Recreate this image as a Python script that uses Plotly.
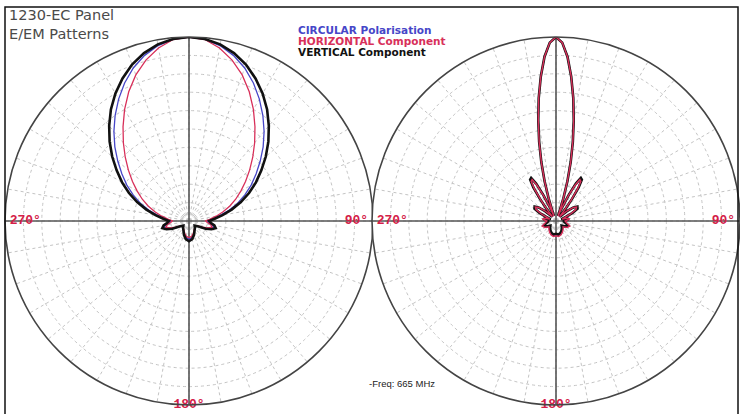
import plotly.graph_objects as go

# ---------------- data ----------------
# Left chart: horizontal-plane (E) pattern, relative field vs angle (symmetric, 0..180)
left_angles = [0, 5, 10, 15, 20, 25, 30, 35, 40, 45, 50, 55, 60, 65, 70, 75, 80, 85, 90,
               95, 100, 105, 110, 115, 120, 130, 140, 150, 160, 170, 180]
left_vertical = [1.0, 0.993, 0.975, 0.945, 0.905, 0.855, 0.80, 0.74, 0.675, 0.61, 0.545, 0.48,
                 0.42, 0.36, 0.30, 0.24, 0.185, 0.14, 0.11,
                 0.12, 0.14, 0.15, 0.13, 0.10, 0.06, 0.04, 0.05, 0.06, 0.08, 0.10, 0.11]
left_circular = [1.0, 0.991, 0.968, 0.932, 0.885, 0.828, 0.765, 0.70, 0.635, 0.57, 0.505, 0.445,
                 0.39, 0.335, 0.28, 0.225, 0.17, 0.125, 0.10,
                 0.11, 0.13, 0.14, 0.12, 0.09, 0.055, 0.04, 0.05, 0.06, 0.075, 0.09, 0.10]
left_horizontal = [1.0, 0.99, 0.955, 0.905, 0.845, 0.775, 0.70, 0.625, 0.555, 0.49, 0.43, 0.375,
                   0.325, 0.28, 0.235, 0.19, 0.15, 0.115, 0.09,
                   0.10, 0.12, 0.13, 0.11, 0.08, 0.05, 0.04, 0.05, 0.055, 0.07, 0.085, 0.09]

# Right chart: vertical-plane (EM) pattern
right_angles = [0, 2, 4, 6, 8, 10, 12, 14, 16, 18, 20, 22, 24, 26, 28, 30, 32, 34, 36, 38, 40,
                44, 48, 52, 56, 60, 64, 68, 72, 76, 80, 85, 90, 100, 110, 120, 130, 140,
                150, 160, 170, 180]
right_vertical = [1.0, 0.97, 0.895, 0.79, 0.675, 0.555, 0.44, 0.33, 0.225, 0.13, 0.055, 0.03,
                  0.08, 0.16, 0.23, 0.27, 0.265, 0.22, 0.15, 0.08, 0.03,
                  0.04, 0.08, 0.12, 0.14, 0.135, 0.10, 0.05, 0.03, 0.05, 0.07, 0.06, 0.04,
                  0.05, 0.07, 0.06, 0.04, 0.05, 0.06, 0.07, 0.075, 0.07]
right_circular = [1.0, 0.97, 0.895, 0.79, 0.675, 0.555, 0.44, 0.33, 0.225, 0.13, 0.055, 0.03,
                  0.08, 0.155, 0.225, 0.265, 0.26, 0.215, 0.145, 0.08, 0.03,
                  0.04, 0.08, 0.115, 0.135, 0.13, 0.095, 0.05, 0.03, 0.05, 0.07, 0.06, 0.045,
                  0.055, 0.075, 0.065, 0.045, 0.055, 0.065, 0.075, 0.08, 0.075]
right_horizontal = [1.0, 0.97, 0.895, 0.79, 0.675, 0.555, 0.44, 0.33, 0.225, 0.13, 0.055, 0.03,
                    0.075, 0.15, 0.22, 0.26, 0.255, 0.21, 0.14, 0.075, 0.03,
                    0.045, 0.085, 0.12, 0.135, 0.125, 0.09, 0.05, 0.035, 0.055, 0.075, 0.065,
                    0.05, 0.06, 0.08, 0.07, 0.05, 0.06, 0.07, 0.08, 0.085, 0.08]

series_names = ["CIRCULAR Polarisation", "HORIZONTAL Component", "VERTICAL Component"]
series_colors = ["#4646c8", "#d8305a", "#111111"]
axis_labels = ["270°", "90°", "180°"]
label_angles = [270, 90, 180]
title_lines = ["1230-EC Panel", "E/EM Patterns"]
freq_text = "-Freq: 665 MHz"


def mirror(angles, values):
    """Full 360° curve from the symmetric half pattern."""
    th = list(angles) + [360 - a for a in reversed(angles[:-1])]
    r = list(values) + list(reversed(values[:-1]))
    return r, th


fig = go.Figure()

for polar_id, angles, sets in [
    ("polar", left_angles, [left_circular, left_horizontal, left_vertical]),
    ("polar2", right_angles, [right_circular, right_horizontal, right_vertical]),
]:
    # main cross-hair axis lines
    fig.add_trace(go.Scatterpolar(r=[1, 0, 1], theta=[0, 0, 180], mode="lines",
                                  line=dict(color="#555555", width=1.6), subplot=polar_id,
                                  showlegend=False, hoverinfo="skip"))
    fig.add_trace(go.Scatterpolar(r=[1, 0, 1], theta=[90, 0, 270], mode="lines",
                                  line=dict(color="#555555", width=1.6), subplot=polar_id,
                                  showlegend=False, hoverinfo="skip"))
    if polar_id == "polar":
        order, widths = [0, 1, 2], {0: 1.3, 1: 1.3, 2: 2.6}
    else:
        order, widths = [0, 2, 1], {0: 1.3, 1: 1.4, 2: 2.6}
    for i in order:
        r, th = mirror(angles, sets[i])
        fig.add_trace(go.Scatterpolar(r=r, theta=th, mode="lines", name=series_names[i],
                                      line=dict(color=series_colors[i], width=widths[i]),
                                      subplot=polar_id, showlegend=False))
    # axis angle labels inside the ring
    fig.add_trace(go.Scatterpolar(r=[0.89, 0.91, 1.0], theta=label_angles, mode="text",
                                  text=["<b>%s</b>" % t for t in axis_labels],
                                  textfont=dict(family="Liberation Mono", size=13, color="#d42048"),
                                  cliponaxis=False,
                                  subplot=polar_id, showlegend=False, hoverinfo="skip"))

grid = dict(gridcolor="#c4c4c4", griddash="dot", gridwidth=1)
common_polar = dict(
    bgcolor="white",
    radialaxis=dict(range=[0, 1], dtick=0.1, showticklabels=False, ticks="",
                    showline=False, **grid),
    angularaxis=dict(rotation=90, direction="clockwise", dtick=10, showticklabels=False,
                     ticks="", showline=True, linecolor="#444444", linewidth=1.6, **grid),
)

R = 184
cy = 414 - 221
fig.update_layout(
    width=740, height=414,
    margin=dict(l=0, r=0, t=0, b=0),
    paper_bgcolor="white",
    plot_bgcolor="white",
    polar=dict(domain=dict(x=[5 / 740, (5 + 2 * R) / 740], y=[(cy - R) / 414, (cy + R) / 414]),
               **common_polar),
    polar2=dict(domain=dict(x=[(740 - 2 * R) / 740, 1.0], y=[(cy - R) / 414, (cy + R) / 414]),
                **common_polar),
    showlegend=False,
)

# titles and legend texts
fig.add_annotation(x=7 / 740, y=1 - 15 / 414, xref="paper", yref="paper", xanchor="left",
                   yanchor="middle", text=title_lines[0], showarrow=False,
                   font=dict(family="DejaVu Sans", size=14.5, color="#4a4a4a"))
fig.add_annotation(x=7 / 740, y=1 - 34 / 414, xref="paper", yref="paper", xanchor="left",
                   yanchor="middle", text=title_lines[1], showarrow=False,
                   font=dict(family="DejaVu Sans", size=14.5, color="#4a4a4a"))
for k, (name, col) in enumerate(zip(series_names, series_colors)):
    fig.add_annotation(x=296 / 740, y=1 - (30 + 11 * k) / 414, xref="paper", yref="paper",
                       xanchor="left", yanchor="middle", text="<b>%s</b>" % name,
                       showarrow=False,
                       font=dict(family="DejaVu Sans", size=10.5, color=col))
fig.add_annotation(x=367 / 740, y=1 - 383 / 414, xref="paper", yref="paper", xanchor="left",
                   yanchor="middle", text=freq_text, showarrow=False,
                   font=dict(family="Liberation Sans", size=9.5, color="#222222"))

# outer frame
fig.add_shape(type="rect", xref="paper", yref="paper", x0=5 / 740, x1=738 / 740,
              y0=-0.01, y1=1 - 7 / 414, line=dict(color="#111111", width=1.5), layer="above")

fig.write_html("out.html", config={"displayModeBar": False},
               post_script="document.body.style.margin='0px';")
